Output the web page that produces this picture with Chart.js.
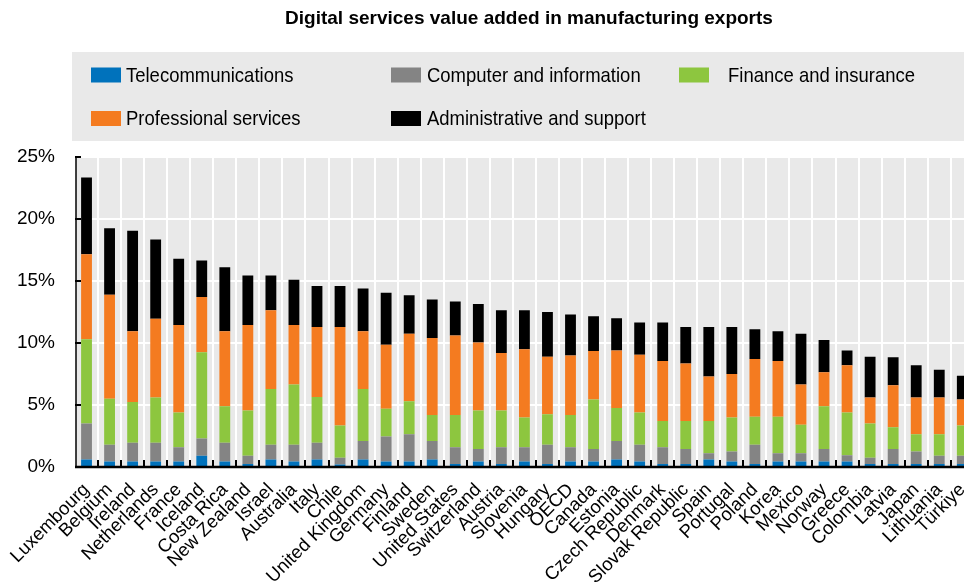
<!DOCTYPE html>
<html>
<head>
<meta charset="utf-8">
<script src="https://cdn.jsdelivr.net/npm/chart.js@4/dist/chart.umd.min.js"></script>
<style>
  html, body { margin: 0; padding: 0; background: #fff; overflow: hidden; }
  #wrap { width: 964px; height: 583px; overflow: hidden; }
  #wrap div { width: 990px; height: 583px; }
</style>
</head>
<body>
<div id="wrap"><div><canvas id="chart"></canvas></div></div>
<script>
const countries = ['Luxembourg', 'Belgium', 'Ireland', 'Netherlands', 'France', 'Iceland', 'Costa Rica',
  'New Zealand', 'Israel', 'Australia', 'Italy', 'Chile', 'United Kingdom', 'Germany', 'Finland', 'Sweden',
  'United States', 'Switzerland', 'Austria', 'Slovenia', 'Hungary', 'OECD', 'Canada', 'Estonia',
  'Czech Republic', 'Denmark', 'Slovak Republic', 'Spain', 'Portugal', 'Poland', 'Korea', 'Mexico',
  'Norway', 'Greece', 'Colombia', 'Latvia', 'Japan', 'Lithuania', 'Türkiye'];

// shares of manufacturing exports, %
const telecom = [0.6, 0.45, 0.45, 0.45, 0.45, 0.9, 0.45, 0.25, 0.6, 0.45, 0.6, 0.2, 0.6, 0.45, 0.45, 0.6,
  0.25, 0.45, 0.25, 0.45, 0.25, 0.45, 0.45, 0.6, 0.45, 0.25, 0.25, 0.6, 0.45, 0.25, 0.45, 0.45,
  0.45, 0.45, 0.25, 0.25, 0.25, 0.25, 0.25];
const computer = [2.9, 1.35, 1.5, 1.5, 1.15, 1.4, 1.5, 0.65, 1.2, 1.35, 1.35, 0.55, 1.5, 2.0, 2.2, 1.5,
  1.35, 1.0, 1.35, 1.15, 1.55, 1.15, 1.0, 1.5, 1.35, 1.35, 1.2, 0.5, 0.8, 1.55, 0.65, 0.65,
  1.0, 0.5, 0.5, 1.2, 1.0, 0.65, 0.65];
const finance = [6.8, 3.7, 3.3, 3.65, 2.8, 6.95, 2.95, 3.65, 4.5, 4.85, 3.7, 2.6, 4.2, 2.25, 2.65, 2.1,
  2.6, 3.1, 2.95, 2.4, 2.45, 2.6, 4.0, 2.65, 2.6, 2.1, 2.25, 2.6, 2.75, 2.25, 2.95, 2.3,
  3.45, 3.45, 2.75, 1.75, 1.4, 1.75, 2.45];
const professional = [6.85, 8.4, 5.7, 6.35, 7.05, 4.45, 6.05, 6.9, 6.35, 4.8, 5.65, 7.95, 4.65, 5.15, 5.45, 6.2,
  6.4, 5.5, 4.65, 5.5, 4.65, 4.8, 3.9, 4.65, 4.65, 4.85, 4.65, 3.6, 3.5, 4.65, 4.5, 3.25,
  2.75, 3.8, 2.1, 3.4, 2.95, 2.95, 2.1];
const admin = [6.2, 5.35, 8.1, 6.4, 5.35, 2.95, 5.15, 4.0, 2.8, 3.65, 3.3, 3.3, 3.45, 4.2, 3.1, 3.1,
  2.75, 3.1, 3.45, 3.15, 3.6, 3.3, 2.8, 2.6, 2.6, 3.1, 2.95, 4.0, 3.8, 2.4, 2.4, 4.1,
  2.6, 1.2, 3.3, 2.25, 2.6, 2.25, 1.9];

const seriesNames = ['Telecommunications', 'Computer and information', 'Finance and insurance',
  'Professional services', 'Administrative and support'];
const seriesColors = ['#0072bc', '#848484', '#8dc63f', '#f47b20', '#000000'];

const titleText = 'Digital services value added in manufacturing exports';
const plotBg = '#e9e9e9';
const sans = '"Liberation Sans", Arial, sans-serif';

// gray plot background, axis lines, inward tick marks, title and legend box
const frame = {
  id: 'frame',
  beforeDraw(chart) {
    const { ctx, chartArea: a } = chart;
    ctx.save();
    ctx.fillStyle = plotBg;
    ctx.fillRect(a.left, a.top, a.right - a.left, a.bottom - a.top);
    ctx.restore();
  },
  afterDatasetsDraw(chart) {
    const { ctx, chartArea: a, scales } = chart;
    const x = scales.x, y = scales.y;
    ctx.save();
    ctx.strokeStyle = '#000';
    ctx.lineWidth = 2;
    // x ticks between the bars
    for (let i = 1; i < countries.length; i++) {
      const px = Math.round((x.getPixelForTick(i - 1) + x.getPixelForTick(i)) / 2);
      ctx.beginPath();
      ctx.moveTo(px, a.bottom);
      ctx.lineTo(px, a.bottom - 7);
      ctx.stroke();
    }
    // y ticks
    y.ticks.forEach((t) => {
      const py = Math.round(y.getPixelForValue(t.value));
      ctx.beginPath();
      ctx.moveTo(a.left, py);
      ctx.lineTo(a.left + 6, py);
      ctx.stroke();
    });
    ctx.lineWidth = 1.5;
    ctx.beginPath();
    ctx.moveTo(a.left + 1, a.top);
    ctx.lineTo(a.left + 1, a.bottom);
    ctx.stroke();
    ctx.lineWidth = 2.5;
    ctx.beginPath();
    ctx.moveTo(a.left, a.bottom);
    ctx.lineTo(a.right, a.bottom);
    ctx.stroke();
    ctx.restore();
  },
  afterDraw(chart) {
    const ctx = chart.ctx;
    ctx.save();
    // title
    ctx.fillStyle = '#000';
    ctx.font = 'bold 19px ' + sans;
    ctx.textAlign = 'center';
    ctx.textBaseline = 'middle';
    ctx.fillText(titleText, 529, 19);

    // legend box, text squeezed to look like a narrow face
    ctx.fillStyle = plotBg;
    ctx.fillRect(72, 52, 892, 89);
    const spots = [[91, 126, 75], [391, 427, 75], [679, 728, 75], [91, 126, 118.5], [391, 427, 118.5]];
    ctx.textAlign = 'left';
    ctx.font = '21px ' + sans;
    chart.data.datasets.forEach((ds, i) => {
      const [sx, tx, cy] = spots[i];
      ctx.fillStyle = ds.backgroundColor;
      ctx.fillRect(sx, cy - 7.5, 30, 15);
      ctx.fillStyle = '#000';
      ctx.save();
      ctx.translate(tx, cy + 1);
      ctx.scale(0.88, 1);
      ctx.fillText(ds.label, 0, 0);
      ctx.restore();
    });
    ctx.restore();
  }
};

const seriesData = [telecom, computer, finance, professional, admin];

new Chart(document.getElementById('chart'), {
  type: 'bar',
  data: {
    labels: countries,
    datasets: seriesNames.map((name, i) => ({
      label: name,
      data: seriesData[i],
      backgroundColor: seriesColors[i],
      borderWidth: 0,
      barPercentage: 0.47,
      categoryPercentage: 1
    }))
  },
  options: {
    responsive: true,
    maintainAspectRatio: false,
    animation: false,
    layout: { padding: { left: 0, right: 0, top: 157, bottom: 0 } },
    plugins: {
      legend: { display: false },
      tooltip: { enabled: false },
      title: { display: false }
    },
    scales: {
      x: {
        stacked: true,
        grid: { color: '#fff', lineWidth: 2, offset: true, drawTicks: false },
        border: { display: false },
        ticks: {
          autoSkip: false,
          minRotation: 45,
          maxRotation: 45,
          color: '#000',
          padding: 12,
          font: { family: sans, size: 18.5 }
        },
        afterFit(scale) { scale.height = 116; }
      },
      y: {
        stacked: true,
        min: 0,
        max: 25,
        grid: { color: '#fff', lineWidth: 2, drawTicks: false },
        border: { display: false },
        ticks: {
          stepSize: 5,
          color: '#000',
          padding: 20,
          font: { family: sans, size: 19 },
          callback: (v) => v + '%'
        },
        afterFit(scale) { scale.width = 75; }
      }
    }
  },
  plugins: [frame]
});
</script>
</body>
</html>
